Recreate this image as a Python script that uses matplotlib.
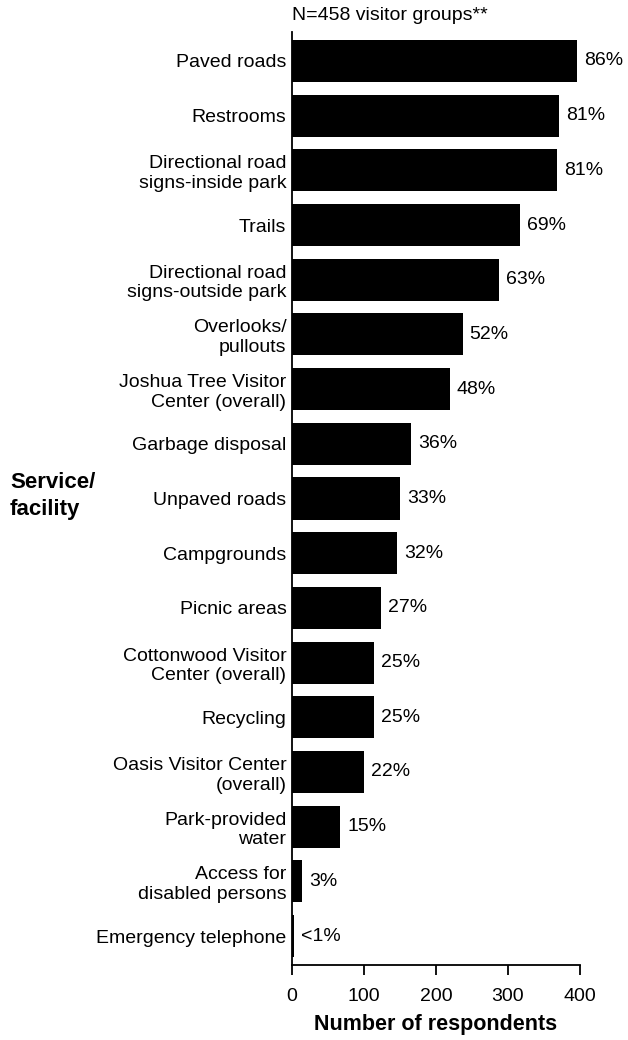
import matplotlib
matplotlib.use("Agg")
import matplotlib.pyplot as plt

plt.rcParams['font.family'] = ['Liberation Sans', 'DejaVu Sans']

categories = [
    "Paved roads",
    "Restrooms",
    "Directional road\nsigns-inside park",
    "Trails",
    "Directional road\nsigns-outside park",
    "Overlooks/\npullouts",
    "Joshua Tree Visitor\nCenter (overall)",
    "Garbage disposal",
    "Unpaved roads",
    "Campgrounds",
    "Picnic areas",
    "Cottonwood Visitor\nCenter (overall)",
    "Recycling",
    "Oasis Visitor Center\n(overall)",
    "Park-provided\nwater",
    "Access for\ndisabled persons",
    "Emergency telephone",
]
counts = [396, 371, 368, 317, 288, 237, 219, 165, 150, 146, 123, 114, 114, 100, 67, 14, 3]
pct_labels = ["86%", "81%", "81%", "69%", "63%", "52%", "48%", "36%", "33%",
              "32%", "27%", "25%", "25%", "22%", "15%", "3%", "<1%"]
x_ticks = [0, 100, 200, 300, 400]

fig = plt.figure(figsize=(6.28, 10.40), dpi=100)
ax = fig.add_axes([292 / 628, 1 - 965 / 1040, 288 / 628, (965 - 32) / 1040])

ypos = list(range(len(categories)))
ax.barh(ypos, counts, height=0.77, color="black")
ax.set_ylim(len(categories) - 0.47, -0.53)
ax.set_xlim(0, 400)

for y, v, lab in zip(ypos, counts, pct_labels):
    ax.annotate(lab, xy=(v, y), xytext=(5, 0), textcoords="offset points",
                ha="left", va="center", fontsize=14)

ax.set_yticks(ypos)
ax.set_yticklabels(categories, fontsize=14, linespacing=1.2)
ax.tick_params(axis="y", length=0, pad=4)
ax.set_xticks(x_ticks)
ax.set_xticklabels([str(t) for t in x_ticks], fontsize=14)
ax.tick_params(axis="x", direction="out", length=7.3, width=1.3, pad=9)

for s in ("top", "right"):
    ax.spines[s].set_visible(False)
ax.spines["left"].set_linewidth(1.3)
ax.spines["bottom"].set_linewidth(1.3)
ax.spines["bottom"].set_bounds(0, 400)

ax.set_xlabel("Number of respondents", fontsize=15.5, fontweight="bold", labelpad=7)
fig.text(292 / 628, 1 - 15 / 1040, "N=458 visitor groups**", fontsize=14,
         ha="left", va="center")
fig.text(10 / 628, 1 - 496 / 1040, "Service/\nfacility", fontsize=16,
         fontweight="bold", ha="left", va="center", linespacing=1.35)

fig.savefig("out.png", dpi=100)
